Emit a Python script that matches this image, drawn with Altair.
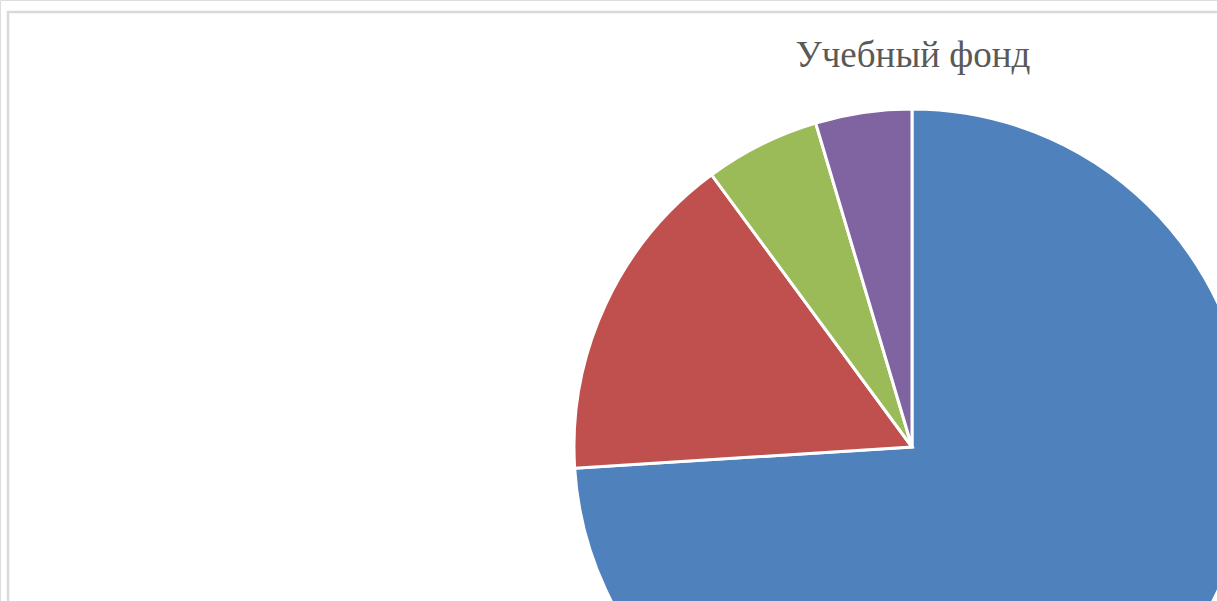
import altair as alt
import pandas as pd

categories = ["Категория 1", "Категория 2", "Категория 3", "Категория 4"]
values = [74.0, 15.9, 5.5, 4.6]
colors = ["#4F81BD", "#C0504D", "#9BBB59", "#8064A2"]
title_text = "Учебный фонд"

df = pd.DataFrame({"cat": categories, "val": values, "idx": list(range(len(values)))})

W, H = 1217, 601

frame = alt.Chart(pd.DataFrame({"a": [0]})).mark_rect(
    fill=None, stroke="#d9d9d9", strokeWidth=2.5
).encode(
    x=alt.value(8), x2=alt.value(1240), y=alt.value(12), y2=alt.value(640)
)

pie = alt.Chart(df).mark_arc(outerRadius=338, stroke="white", strokeWidth=3).encode(
    theta=alt.Theta("val:Q", stack=True),
    order=alt.Order("idx:O"),
    color=alt.Color("cat:N", scale=alt.Scale(domain=categories, range=colors), legend=None),
    x=alt.value(912),
    y=alt.value(447),
)

title = alt.Chart(pd.DataFrame({"t": [title_text]})).mark_text(
    font="Liberation Serif", fontSize=37, color="#595959", align="center", baseline="alphabetic"
).encode(
    text="t:N", x=alt.value(913), y=alt.value(67)
)

chart = alt.layer(frame, pie, title).properties(
    width=W, height=H, padding=0, autosize=alt.AutoSizeParams(type="none")
).configure_view(stroke=None).configure(background="white")

chart.save("out.html", embed_options={"renderer": "svg", "actions": False})
